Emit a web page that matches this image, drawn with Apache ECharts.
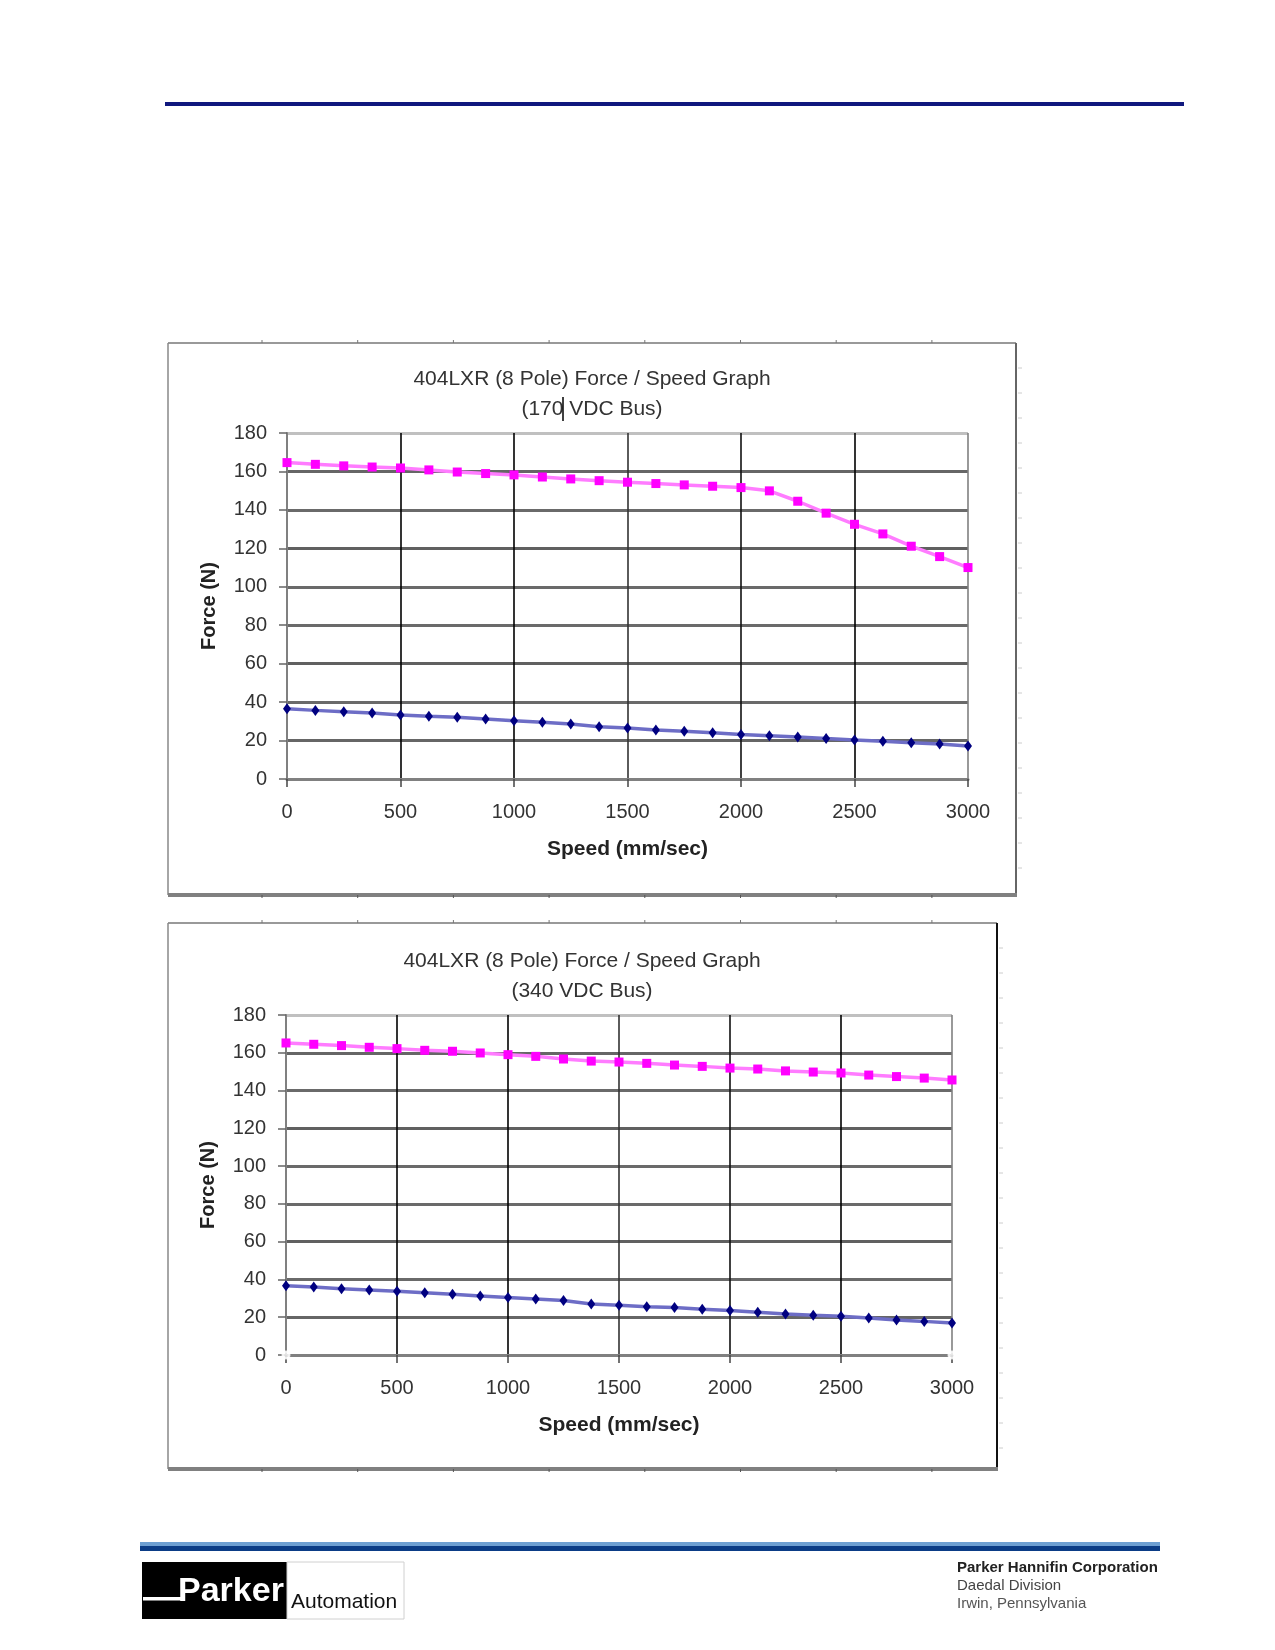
<!DOCTYPE html>
<html>
<head>
<meta charset="utf-8">
<title>404LXR Force / Speed</title>
<script src="https://cdn.jsdelivr.net/npm/echarts@6/dist/echarts.min.js"></script>
<style>
  html, body { margin: 0; padding: 0; background: #fff; }
  #page { width: 1275px; height: 1650px; }
</style>
</head>
<body>
<div id="page"></div>
<script>
// speed in mm/sec, shared by both graphs
const speed = [0, 125, 250, 375, 500, 625, 750, 875, 1000, 1125, 1250, 1375, 1500,
  1625, 1750, 1875, 2000, 2125, 2250, 2375, 2500, 2625, 2750, 2875, 3000];

// 170 VDC bus
const peak170 = [164.6, 163.7, 162.9, 162.3, 161.8, 160.8, 159.7, 158.9, 158.2, 157.1, 156.1, 155.2, 154.4,
  153.7, 153.0, 152.3, 151.6, 149.9, 144.5, 138.3, 132.5, 127.5, 121.1, 115.7, 110.0];
const cont170 = [36.6, 35.7, 35.0, 34.3, 33.3, 32.6, 32.1, 31.2, 30.3, 29.5, 28.6, 27.2, 26.5,
  25.5, 24.8, 24.1, 23.2, 22.5, 21.8, 21.1, 20.3, 19.6, 18.9, 18.2, 17.2];

// 340 VDC bus
const peak340 = [165.2, 164.5, 163.8, 162.9, 162.2, 161.3, 160.8, 159.9, 159.0, 158.1, 156.7, 155.6, 155.1,
  154.4, 153.5, 152.8, 151.9, 151.4, 150.4, 149.8, 149.3, 148.2, 147.4, 146.6, 145.6];
const cont340 = [36.7, 36.0, 35.1, 34.4, 33.7, 33.0, 32.1, 31.2, 30.4, 29.6, 28.8, 27.0, 26.3,
  25.6, 25.1, 24.2, 23.5, 22.6, 21.7, 21.0, 20.5, 19.6, 18.5, 17.8, 16.9];
// the two stray axis points on the 340 V graph
const ends340 = [[0, 0], [3000, 0]];

const titles = [
  "404LXR (8 Pole) Force / Speed Graph\n(170 VDC Bus)",
  "404LXR (8 Pole) Force / Speed Graph\n(340 VDC Bus)",
];
const xName = "Speed (mm/sec)";
const yName = "Force (N)";

const FONT = '"Liberation Sans", Arial, sans-serif';

const zip = (xs, ys) => xs.map((x, i) => [x, ys[i]]);

function xAxis(gridIndex) {
  return {
    type: "value", gridIndex, min: 0, max: 3000, interval: 500,
    name: xName, nameLocation: "middle", nameGap: 60,
    nameTextStyle: { fontFamily: FONT, fontSize: 21, fontWeight: "bold", color: "#222" },
    axisLine: { lineStyle: { color: "#808080", width: 3 } },
    axisTick: { length: 8, lineStyle: { color: "#444", width: 1.5 } },
    axisLabel: { margin: 23, fontFamily: FONT, fontSize: 20, color: "#333", formatter: (v) => String(v) },
    splitLine: {
      lineStyle: { width: 1.6, color: ["#808080", "#000", "#000", "#333", "#111", "#000", "#808080"] },
    },
  };
}

function yAxis(gridIndex) {
  return {
    type: "value", gridIndex, min: 0, max: 180, interval: 20,
    name: yName, nameLocation: "middle", nameGap: 68,
    nameTextStyle: { fontFamily: FONT, fontSize: 20, fontWeight: "bold", color: "#222" },
    axisLine: { show: true, lineStyle: { color: "#808080", width: 2 } },
    axisTick: { show: true, length: 8, lineStyle: { color: "#666", width: 1.5 } },
    axisLabel: { margin: 20, fontFamily: FONT, fontSize: 20, color: "#333" },
    splitLine: {
      lineStyle: {
        width: 3,
        color: ["#808080", "#666", "#6a6a6a", "#606060", "#6a6a6a", "#6a6a6a", "#606060", "#6a6a6a", "#666", "#c0c0c0"],
      },
    },
  };
}

function peakSeries(idx, values) {
  return {
    name: "Peak Force", type: "line", xAxisIndex: idx, yAxisIndex: idx,
    data: zip(speed, values),
    symbol: "rect", symbolSize: 9,
    itemStyle: { color: "#ff00ff" },
    lineStyle: { color: "#ff7cff", width: 3.5 },
    z: 5,
  };
}

function contSeries(idx, values) {
  return {
    name: "Continuous Force", type: "line", xAxisIndex: idx, yAxisIndex: idx,
    data: zip(speed, values),
    symbol: "diamond", symbolSize: [8, 11],
    itemStyle: { color: "#000080" },
    lineStyle: { color: "#6d6dc6", width: 3.5 },
    z: 5,
  };
}

// chart frames, copied from the pasted Excel objects
function frame(x0, y0, x1, y1, rightColor) {
  const els = [
    { type: "line", shape: { x1: x0, y1: y0, x2: x1, y2: y0 }, style: { stroke: "#777", lineWidth: 1.5 } },
    { type: "line", shape: { x1: x0, y1: y0, x2: x0, y2: y1 }, style: { stroke: "#888", lineWidth: 1.5 } },
    { type: "line", shape: { x1: x1, y1: y0, x2: x1, y2: y1 }, style: { stroke: rightColor, lineWidth: 2 } },
    { type: "line", shape: { x1: x0, y1: y1, x2: x1 + 1, y2: y1 }, style: { stroke: "#808080", lineWidth: 4 } },
  ];
  for (let x = x0 + 94; x < x1 - 20; x += 95.7) {
    els.push({ type: "line", shape: { x1: x, y1: y0 - 3, x2: x, y2: y0 }, style: { stroke: "#777", lineWidth: 1 } });
    els.push({ type: "line", shape: { x1: x, y1: y1, x2: x, y2: y1 + 3 }, style: { stroke: "#555", lineWidth: 1 } });
  }
  for (let y = y0 + 25; y < y1 - 10; y += 25) {
    els.push({ type: "line", shape: { x1: x1 + 2, y1: y, x2: x1 + 6, y2: y }, style: { stroke: "#ccc", lineWidth: 1 } });
  }
  return els;
}

const graphic = [
  // header rule
  { type: "rect", shape: { x: 165, y: 102, width: 1019, height: 4 }, style: { fill: "#10187e" } },
  ...frame(168, 343, 1016, 895, "#666"),
  ...frame(168, 923, 997, 1469, "#111"),
  // text cursor left in the first title
  { type: "line", shape: { x1: 563, y1: 397, x2: 563, y2: 421 }, style: { stroke: "#000", lineWidth: 1.5 }, z: 10 },
  // footer rule
  { type: "rect", shape: { x: 140, y: 1542, width: 1020, height: 4 }, style: { fill: "#6d9fd2" } },
  { type: "rect", shape: { x: 140, y: 1546, width: 1020, height: 5 }, style: { fill: "#0b3c86" } },
  // Parker Automation logo
  { type: "rect", shape: { x: 142, y: 1562, width: 145, height: 57 }, style: { fill: "#000" } },
  { type: "rect", shape: { x: 287, y: 1562, width: 117, height: 57 }, style: { fill: "#fff", stroke: "#d0d0d0", lineWidth: 1 } },
  { type: "rect", shape: { x: 143, y: 1597, width: 40, height: 3.5 }, style: { fill: "#fff" } },
  {
    type: "text", x: 178, y: 1592,
    style: { text: "Parker", fill: "#fff", font: "bold 34px " + FONT, textVerticalAlign: "middle", textAlign: "left" },
  },
  {
    type: "text", x: 291, y: 1602,
    style: { text: "Automation", fill: "#111", font: "21px " + FONT, textVerticalAlign: "middle", textAlign: "left" },
  },
  // division address
  {
    type: "text", x: 957, y: 1568,
    style: { text: "Parker Hannifin Corporation", fill: "#222", font: "bold 15px " + FONT, textVerticalAlign: "middle" },
  },
  {
    type: "text", x: 957, y: 1586,
    style: { text: "Daedal Division", fill: "#444", font: "15px " + FONT, textVerticalAlign: "middle" },
  },
  {
    type: "text", x: 957, y: 1604,
    style: { text: "Irwin, Pennsylvania", fill: "#555", font: "15px " + FONT, textVerticalAlign: "middle" },
  },
];

const chart = echarts.init(document.getElementById("page"), null, { renderer: "canvas" });

chart.setOption({
  backgroundColor: "#fff",
  animation: false,
  title: [
    {
      text: titles[0], left: 592, top: 364, textAlign: "center", padding: 0,
      textStyle: { fontFamily: FONT, fontSize: 21, fontWeight: "normal", color: "#333", lineHeight: 30 },
    },
    {
      text: titles[1], left: 582, top: 946, textAlign: "center", padding: 0,
      textStyle: { fontFamily: FONT, fontSize: 21, fontWeight: "normal", color: "#333", lineHeight: 30 },
    },
  ],
  grid: [
    { left: 287, top: 433, width: 681, height: 346, containLabel: false },
    { left: 286, top: 1015, width: 666, height: 340, containLabel: false },
  ],
  xAxis: [xAxis(0), xAxis(1)],
  yAxis: [yAxis(0), yAxis(1)],
  series: [
    peakSeries(0, peak170),
    contSeries(0, cont170),
    peakSeries(1, peak340),
    contSeries(1, cont340),
    {
      name: "Axis", type: "scatter", xAxisIndex: 1, yAxisIndex: 1,
      data: ends340, symbol: "emptyCircle", symbolSize: 7,
      itemStyle: { color: "#fff", borderColor: "#555", borderWidth: 1.5 },
      z: 6,
    },
  ],
  graphic,
});
</script>
</body>
</html>
